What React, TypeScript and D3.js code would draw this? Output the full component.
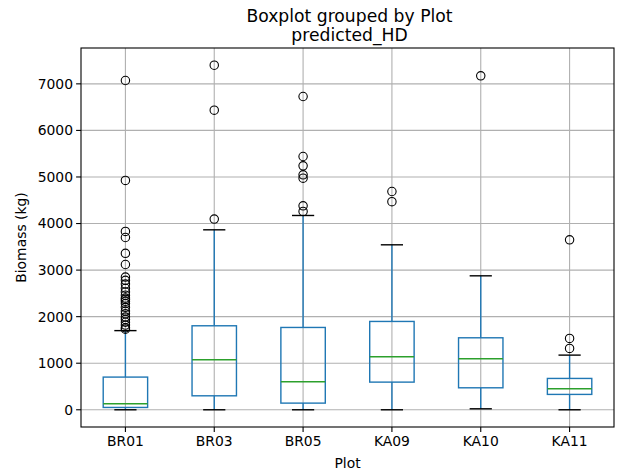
import React from "react";
import * as d3 from "d3";

const categories = ["BR01", "BR03", "BR05", "KA09", "KA10", "KA11"];
// [lowerWhisker, q1, median, q3, upperWhisker]
const whiskLow = [0, 0, 0, 0, 21, 0];
const q1 = [50, 300, 143, 594, 472, 330];
const medians = [129, 1074, 601, 1138, 1095, 451];
const q3 = [702, 1804, 1768, 1897, 1546, 673];
const whiskHigh = [1700, 3865, 4173, 3543, 2877, 1174];
const outliers: number[][] = [
  [7072, 4925, 3830, 3700, 3360, 3120, 2850, 2780, 2700, 2610, 2530, 2460, 2400, 2370, 2330, 2280, 2200, 2120, 2060, 1990, 1940, 1880, 1820, 1760, 1730],
  [7400, 6435, 4095],
  [6728, 5440, 5240, 5046, 4975, 4380, 4259],
  [4688, 4470],
  [7172],
  [3650, 1532, 1317],
];
const yTicks = [0, 1000, 2000, 3000, 4000, 5000, 6000, 7000];

const W = 620, H = 474;
const L = 81, R = 614, T = 48, B = 427;
const FONT = "DejaVu Sans, sans-serif";

export default function App() {
  const x = d3.scaleLinear().domain([0.5, 6.5]).range([L, R]);
  const y = d3.scaleLinear().domain([-370, 7770]).range([B, T]);
  const bw = x(1.25) - x(1);
  const cw = x(1.125) - x(1);
  const blue = "#1f77b4";
  const green = "#2ca02c";
  return (
    <svg width={W} height={H} style={{ position: "absolute", left: 0, top: 0, background: "#fff" }} fontFamily={FONT}>
      <rect x={0} y={0} width={W} height={H} fill="#fff" />
      {/* grid */}
      {yTicks.map((t) => (
        <line key={"gy" + t} x1={L} x2={R} y1={y(t)} y2={y(t)} stroke="#b0b0b0" strokeWidth={1.1} />
      ))}
      {categories.map((c, i) => (
        <line key={"gx" + c} x1={x(i + 1)} x2={x(i + 1)} y1={T} y2={B} stroke="#b0b0b0" strokeWidth={1.1} />
      ))}
      {/* boxes */}
      {categories.map((c, i) => {
        const cx = x(i + 1);
        return (
          <g key={"b" + c}>
            <line x1={cx} x2={cx} y1={y(q1[i])} y2={y(whiskLow[i])} stroke={blue} strokeWidth={1.4} />
            <line x1={cx} x2={cx} y1={y(q3[i])} y2={y(whiskHigh[i])} stroke={blue} strokeWidth={1.4} />
            <line x1={cx - cw} x2={cx + cw} y1={y(whiskLow[i])} y2={y(whiskLow[i])} stroke="#000" strokeWidth={1.4} />
            <line x1={cx - cw} x2={cx + cw} y1={y(whiskHigh[i])} y2={y(whiskHigh[i])} stroke="#000" strokeWidth={1.4} />
            <rect x={cx - bw} y={y(q3[i])} width={2 * bw} height={y(q1[i]) - y(q3[i])} fill="none" stroke={blue} strokeWidth={1.4} />
            <line x1={cx - bw} x2={cx + bw} y1={y(medians[i])} y2={y(medians[i])} stroke={green} strokeWidth={1.4} />
            {outliers[i].map((v, k) => (
              <circle key={k} cx={cx} cy={y(v)} r={4.2} fill="none" stroke="#000" strokeWidth={1.1} />
            ))}
          </g>
        );
      })}
      {/* spines */}
      <rect x={L} y={T} width={R - L} height={B - T} fill="none" stroke="#000" strokeWidth={1.1} />
      {/* y ticks */}
      {yTicks.map((t) => (
        <g key={"yt" + t}>
          <line x1={L - 4.9} x2={L} y1={y(t)} y2={y(t)} stroke="#000" strokeWidth={1.1} />
          <text x={L - 8} y={y(t)} dy="0.35em" textAnchor="end" fontSize={13.9} fill="#000">{t}</text>
        </g>
      ))}
      {categories.map((c, i) => (
        <g key={"xt" + c}>
          <line x1={x(i + 1)} x2={x(i + 1)} y1={B} y2={B + 4.9} stroke="#000" strokeWidth={1.1} />
          <text x={x(i + 1)} y={B + 19} textAnchor="middle" fontSize={13.9} fill="#000">{c}</text>
        </g>
      ))}
      <text x={(L + R) / 2} y={468} textAnchor="middle" fontSize={13.9}>Plot</text>
      <text transform={`translate(26,${(T + B) / 2}) rotate(-90)`} textAnchor="middle" fontSize={13.9}>Biomass (kg)</text>
      <text x={(L + R) / 2 + 2} y={22} textAnchor="middle" fontSize={17.2}>Boxplot grouped by Plot</text>
      <text x={(L + R) / 2 + 2} y={41} textAnchor="middle" fontSize={17.2}>predicted_HD</text>
    </svg>
  );
}
